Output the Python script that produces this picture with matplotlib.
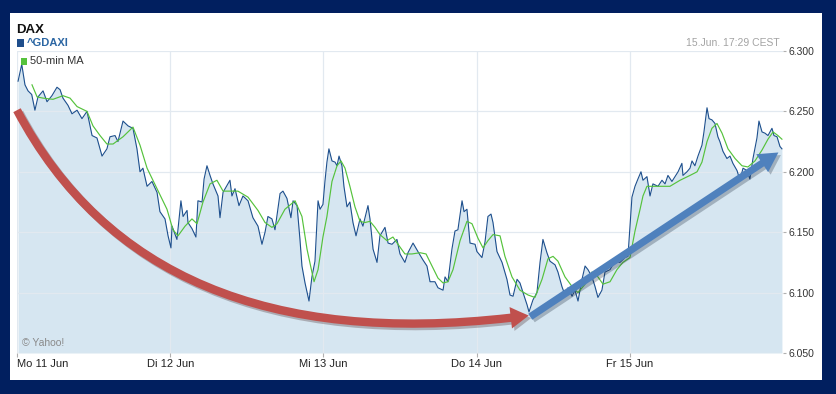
import matplotlib
matplotlib.use('Agg')
import matplotlib.pyplot as plt
import matplotlib.patheffects as pe
from matplotlib.patches import Rectangle, FancyArrowPatch
from matplotlib.path import Path

plt.rcParams['font.family'] = ['Liberation Sans', 'DejaVu Sans']

# x axis: trading days (0 = Monday open), y axis: DAX points
day_ticks = [0, 1, 2, 3, 4]
day_labels = ['Mo 11 Jun', 'Di 12 Jun', 'Mi 13 Jun', 'Do 14 Jun', 'Fr 15 Jun']
y_ticks = [6050, 6100, 6150, 6200, 6250, 6300]
y_labels = ['6.050', '6.100', '6.150', '6.200', '6.250', '6.300']

price_t = [
    0.007, 0.031, 0.052, 0.072, 0.096, 0.117, 0.137, 0.170, 0.196, 0.228,
    0.261, 0.281, 0.300, 0.333, 0.359, 0.392, 0.424, 0.457, 0.490, 0.522,
    0.555, 0.587, 0.607, 0.640, 0.659, 0.692, 0.725, 0.757, 0.783, 0.803,
    0.822, 0.849, 0.881, 0.914, 0.933, 0.966, 0.986, 1.005, 1.012, 1.044,
    1.070, 1.084, 1.110, 1.116, 1.142, 1.168, 1.181, 1.208, 1.221, 1.240,
    1.260, 1.279, 1.312, 1.325, 1.345, 1.390, 1.403, 1.423, 1.449, 1.475,
    1.508, 1.540, 1.573, 1.599, 1.619, 1.638, 1.664, 1.684, 1.717, 1.736,
    1.762, 1.788, 1.802, 1.828, 1.847, 1.860, 1.880, 1.899, 1.906, 1.925,
    1.945, 1.965, 1.978, 1.997, 2.010, 2.023, 2.036, 2.056, 2.076, 2.089,
    2.102, 2.121, 2.134, 2.154, 2.173, 2.193, 2.213, 2.239, 2.258, 2.291,
    2.304, 2.324, 2.350, 2.369, 2.402, 2.422, 2.448, 2.480, 2.500, 2.532,
    2.552, 2.585, 2.617, 2.650, 2.676, 2.696, 2.728, 2.748, 2.781, 2.794,
    2.813, 2.839, 2.859, 2.878, 2.905, 2.918, 2.937, 2.957, 2.990, 3.002,
    3.035, 3.055, 3.074, 3.094, 3.107, 3.133, 3.166, 3.198, 3.218, 3.238,
    3.264, 3.283, 3.303, 3.329, 3.342, 3.368, 3.394, 3.414, 3.433, 3.459,
    3.479, 3.512, 3.531, 3.557, 3.577, 3.597, 3.623, 3.642, 3.662, 3.688,
    3.708, 3.727, 3.753, 3.773, 3.792, 3.818, 3.838, 3.871, 3.903, 3.936,
    3.968, 3.988, 4.014, 4.034, 4.053, 4.073, 4.086, 4.112, 4.132, 4.151,
    4.184, 4.210, 4.230, 4.249, 4.275, 4.295, 4.315, 4.340, 4.347, 4.373,
    4.393, 4.406, 4.425, 4.445, 4.471, 4.484, 4.497, 4.504, 4.517, 4.536,
    4.556, 4.575, 4.588, 4.608, 4.634, 4.654, 4.673, 4.700, 4.719, 4.739,
    4.765, 4.784, 4.804, 4.830, 4.843, 4.863, 4.882, 4.902, 4.928, 4.941,
    4.961, 4.980, 4.993,
]
price = [
    6275, 6289, 6272, 6267, 6264, 6251, 6262, 6267, 6258, 6263,
    6270, 6268, 6261, 6255, 6248, 6251, 6244, 6250, 6230, 6228,
    6213, 6219, 6229, 6230, 6225, 6242, 6238, 6236, 6219, 6200,
    6203, 6188, 6192, 6183, 6167, 6161, 6147, 6137, 6155, 6144,
    6176, 6163, 6168, 6158, 6153, 6146, 6176, 6175, 6194, 6205,
    6197, 6190, 6180, 6162, 6183, 6193, 6180, 6186, 6172, 6180,
    6176, 6162, 6155, 6140, 6150, 6163, 6161, 6152, 6182, 6184,
    6178, 6162, 6176, 6172, 6144, 6122, 6108, 6097, 6093, 6113,
    6126, 6176, 6169, 6173, 6192, 6208, 6219, 6209, 6208, 6205,
    6213, 6205, 6188, 6171, 6175, 6158, 6147, 6161, 6155, 6172,
    6161, 6136, 6125, 6147, 6154, 6141, 6140, 6144, 6132, 6125,
    6133, 6141, 6134, 6127, 6122, 6109, 6109, 6104, 6102, 6113,
    6109, 6136, 6151, 6152, 6176, 6167, 6169, 6141, 6140, 6134,
    6129, 6142, 6163, 6165, 6158, 6134, 6125, 6111, 6098, 6097,
    6111, 6108, 6100, 6090, 6084, 6094, 6100, 6125, 6144, 6133,
    6126, 6123, 6117, 6105, 6098, 6104, 6097, 6102, 6093, 6111,
    6122, 6119, 6113, 6105, 6096, 6102, 6117, 6119, 6126, 6125,
    6129, 6130, 6179, 6188, 6194, 6200, 6193, 6196, 6180, 6190,
    6188, 6193, 6190, 6197, 6192, 6196, 6200, 6207, 6197, 6200,
    6203, 6209, 6205, 6213, 6222, 6233, 6246, 6253, 6244, 6243,
    6240, 6229, 6225, 6217, 6211, 6213, 6207, 6201, 6193, 6203,
    6201, 6194, 6211, 6228, 6242, 6233, 6232, 6230, 6236, 6230,
    6229, 6221, 6219,
]

ma_t = [
    0.098, 0.131, 0.170, 0.235, 0.300, 0.346, 0.392, 0.457, 0.496, 0.542,
    0.587, 0.627, 0.692, 0.757, 0.803, 0.849, 0.914, 0.979, 1.018, 1.051,
    1.097, 1.142, 1.175, 1.214, 1.260, 1.305, 1.345, 1.390, 1.442, 1.508,
    1.573, 1.619, 1.664, 1.697, 1.749, 1.815, 1.860, 1.893, 1.925, 1.939,
    1.965, 1.997, 2.023, 2.056, 2.089, 2.115, 2.141, 2.173, 2.206, 2.239,
    2.271, 2.304, 2.337, 2.369, 2.415, 2.454, 2.487, 2.532, 2.578, 2.631,
    2.670, 2.709, 2.748, 2.781, 2.813, 2.846, 2.892, 2.937, 2.970, 3.009,
    3.042, 3.074, 3.107, 3.153, 3.185, 3.231, 3.283, 3.336, 3.381, 3.427,
    3.466, 3.499, 3.531, 3.577, 3.629, 3.662, 3.708, 3.753, 3.792, 3.825,
    3.871, 3.916, 3.955, 4.001, 4.034, 4.067, 4.086, 4.112, 4.151, 4.197,
    4.262, 4.328, 4.393, 4.439, 4.471, 4.504, 4.536, 4.569, 4.602, 4.641,
    4.687, 4.732, 4.771, 4.817, 4.863, 4.902, 4.935, 4.967, 4.993,
]
ma = [
    6272, 6262, 6261, 6260, 6263, 6261, 6254, 6250, 6238, 6230,
    6223, 6223, 6229, 6237, 6222, 6203, 6186, 6169, 6152, 6147,
    6155, 6161, 6157, 6175, 6190, 6193, 6184, 6184, 6184, 6179,
    6168, 6158, 6154, 6157, 6169, 6176, 6163, 6136, 6117, 6109,
    6119, 6146, 6163, 6192, 6205, 6209, 6203, 6188, 6171, 6159,
    6158, 6159, 6154, 6148, 6143, 6146, 6140, 6132, 6132, 6133,
    6132, 6122, 6112, 6108, 6109, 6119, 6143, 6159, 6157, 6145,
    6137, 6143, 6148, 6147, 6130, 6113, 6102, 6098, 6096, 6111,
    6128, 6130, 6126, 6113, 6104, 6100, 6107, 6117, 6113, 6107,
    6109, 6119, 6125, 6129, 6151, 6169, 6180, 6188, 6188, 6188,
    6188, 6193, 6197, 6200, 6208, 6225, 6236, 6240, 6232, 6219,
    6211, 6205, 6204, 6209, 6218, 6227, 6233, 6230, 6227,
]

# hand-drawn trend arrows (start, bezier control, end) in (day, points)
down_arrow = [(0.0, 6251), (0.88, 6040), (3.34, 6081)]
up_arrow = [(3.35, 6080), (4.16, 6148), (4.97, 6216)]

NAVY = '#011f5f'
PRICE_BLUE = '#1d4f8d'
MA_GREEN = '#55c23c'
FILL = '#d6e6f1'
GRID = '#e2e9f0'

W, H = 837, 394
fx = lambda x: x / W
fy = lambda y: 1 - y / H

fig = plt.figure(figsize=(W / 100, H / 100), dpi=100, facecolor=NAVY)
fig.patches.append(Rectangle((fx(10), fy(380)), 812 / W, 367 / H,
                             transform=fig.transFigure, facecolor='white',
                             edgecolor='none', zorder=-1))

ax = fig.add_axes([fx(17), fy(353), 766 / W, 302 / H])
ax.set_facecolor('none')

ax.fill_between(price_t, price, y_ticks[0], color=FILL, lw=0, zorder=1)
ax.plot(price_t, price, color=PRICE_BLUE, lw=0.8, zorder=3)
ax.plot(ma_t, ma, color=MA_GREEN, lw=0.85, zorder=4)


def trend_arrow(pts, color, tail, head_w, head_l):
    path = Path(pts, [Path.MOVETO, Path.CURVE3, Path.CURVE3])
    style = f'simple,tail_width={tail},head_width={head_w},head_length={head_l}'
    arr = FancyArrowPatch(path=path, arrowstyle=style, transform=ax.transData,
                          facecolor=color, edgecolor='none', clip_on=False,
                          zorder=6,
                          path_effects=[pe.SimplePatchShadow(offset=(1.8, -1.8), alpha=0.28),
                                        pe.Normal()])
    ax.add_patch(arr)


trend_arrow(down_arrow, '#c0504d', 6.0, 15.5, 13)
trend_arrow(up_arrow, '#4f81bd', 5.2, 15.5, 14)

ax.set_xlim(0, 5)
ax.set_ylim(y_ticks[0], y_ticks[-1])

for s in ax.spines.values():
    s.set_visible(False)
ax.set_axisbelow('line')
ax.grid(True, color=GRID, lw=0.9)

ax.set_xticks(day_ticks)
ax.set_xticklabels(day_labels)
ax.get_xticklabels()[0].set_horizontalalignment('left')
ax.tick_params(axis='x', direction='out', length=3, width=0.8, color='#b0b0b0',
               pad=1.2, labelsize=8, labelcolor='#222222')

ax.yaxis.tick_right()
ax.set_yticks(y_ticks)
ax.set_yticklabels(y_labels)
ax.tick_params(axis='y', direction='out', length=2.5, width=0.8, color='#b0b0b0',
               pad=1.5, labelsize=7.5, labelcolor='#333333')

# header
fig.text(fx(16), fy(30), 'DAX', fontsize=9.5, fontweight='bold', color='#111111', va='center')
fig.patches.append(Rectangle((fx(17), fy(47)), 7 / W, 8 / H, transform=fig.transFigure,
                             facecolor='#1f4e8c', edgecolor='none'))
fig.text(fx(27), fy(43), '^GDAXI', fontsize=8, fontweight='bold', color='#2b66a3', va='center')
fig.text(fx(780), fy(43), '15.Jun. 17:29 CEST', fontsize=7.5, color='#a3a3a3',
         ha='right', va='center')

# legend for moving average
fig.patches.append(Rectangle((fx(21), fy(65)), 6 / W, 7 / H, transform=fig.transFigure,
                             facecolor=MA_GREEN, edgecolor='none', zorder=5))
fig.text(fx(30), fy(61.5), '50-min MA', fontsize=8, color='#333333', va='center', zorder=5)

fig.text(fx(22), fy(343), '\u00a9 Yahoo!', fontsize=7.5, color='#8a8a8a', va='center')

fig.savefig('out.png', dpi=100, facecolor=NAVY)
